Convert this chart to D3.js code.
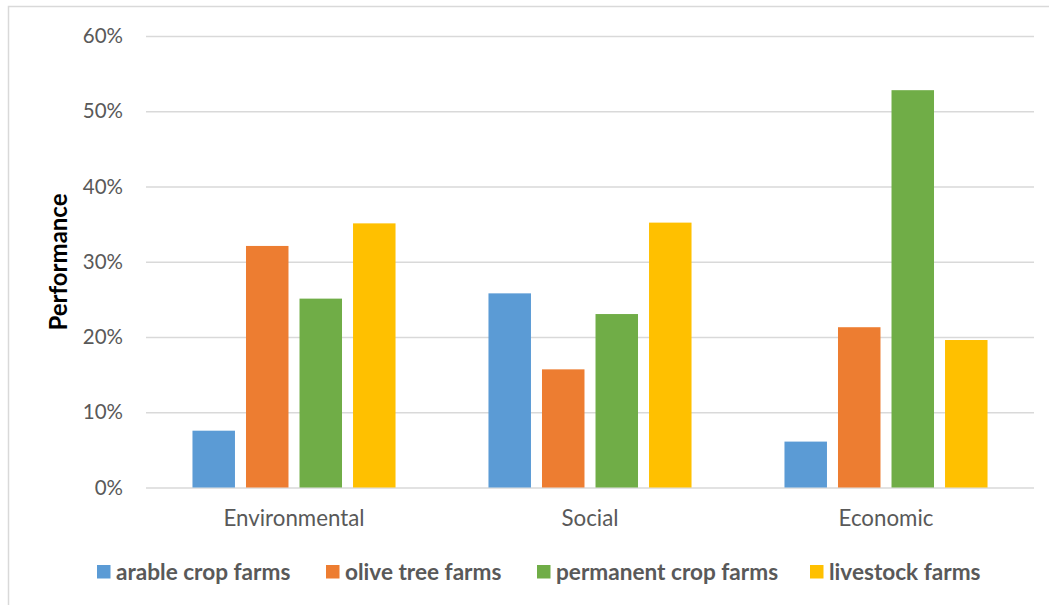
<!DOCTYPE html>
<html>
<head>
<meta charset="utf-8">
<script src="https://cdn.jsdelivr.net/npm/d3@7"></script>
<style>
  html, body { margin: 0; padding: 0; background: #fff; }
  svg { display: block; font-family: Lato, "Open Sans", sans-serif; }
</style>
</head>
<body>
<svg id="chart" width="1049" height="605"></svg>
<script>
// Performance share per dimension and farm type
const categories = ["Environmental", "Social", "Economic"];
const seriesNames = ["arable crop farms", "olive tree farms", "permanent crop farms", "livestock farms"];
const arable = [7.55, 25.8, 6.1];
const olive = [32.1, 15.7, 21.3];
const permanent = [25.1, 23.05, 52.8];
const livestock = [35.1, 35.2, 19.6];
const yTicks = [0, 10, 20, 30, 40, 50, 60];
const colors = ["#5B9BD5", "#ED7D31", "#70AD47", "#FFC000"];

const seriesValues = [arable, olive, permanent, livestock];
const rows = categories.map((c, i) => ({
  category: c,
  values: seriesNames.map((s, j) => ({ series: s, value: seriesValues[j][i] }))
}));

const svg = d3.select("#chart");
const plot = { left: 146, right: 1034, top: 36, bottom: 487.5 };

// outer frame (left and top edges visible)
svg.append("rect")
  .attr("x", 8.5).attr("y", 6.5)
  .attr("width", 1100).attr("height", 700)
  .attr("fill", "none").attr("stroke", "#d9d9d9").attr("stroke-width", 1.5);

const y = d3.scaleLinear().domain([0, 60]).range([plot.bottom, plot.top]);
const x0 = d3.scaleBand().domain(categories).range([plot.left, plot.right])
  .paddingInner(0.314).paddingOuter(0.157);
const x1 = d3.scaleBand().domain(seriesNames).range([0, x0.bandwidth()])
  .paddingInner(0.206).paddingOuter(0);
const color = d3.scaleOrdinal().domain(seriesNames).range(colors);

// gridlines + tick labels
const yAxis = d3.axisLeft(y).tickValues(yTicks)
  .tickSize(-(plot.right - plot.left)).tickPadding(23)
  .tickFormat(d => d + "%");
const gy = svg.append("g").attr("transform", `translate(${plot.left},0)`).call(yAxis);
gy.select(".domain").remove();
gy.selectAll(".tick line").attr("stroke", "#d9d9d9").attr("stroke-width", 1.5);
gy.selectAll(".tick text").attr("fill", "#595959").attr("font-size", 20.5)
  .attr("font-family", "Lato, sans-serif");

// bars
const groups = svg.append("g").selectAll("g").data(rows).join("g")
  .attr("transform", d => `translate(${x0(d.category)},0)`);
groups.selectAll("rect").data(d => d.values).join("rect")
  .attr("x", d => x1(d.series))
  .attr("y", d => y(d.value))
  .attr("width", x1.bandwidth())
  .attr("height", d => y(0) - y(d.value))
  .attr("fill", d => color(d.series));

// category axis
const xAxis = d3.axisBottom(x0).tickSize(0).tickPadding(23);
const gx = svg.append("g").attr("transform", `translate(0,${plot.bottom})`).call(xAxis);
gx.select(".domain").remove();
gx.selectAll(".tick text").attr("fill", "#595959").attr("font-size", 22.3)
  .attr("font-family", "Lato, sans-serif");

// y-axis title
svg.append("text")
  .attr("transform", `translate(67,262) rotate(-90)`)
  .attr("text-anchor", "middle")
  .attr("font-size", 24).attr("font-weight", "bold").attr("fill", "#000")
  .text("Performance");

// legend
const legendX = [97, 326, 537, 810];
const legend = svg.append("g").selectAll("g").data(seriesNames).join("g")
  .attr("transform", (d, i) => `translate(${legendX[i]},565)`);
legend.append("rect").attr("width", 13.5).attr("height", 13.5)
  .attr("fill", d => color(d));
legend.append("text").attr("x", 19).attr("y", 14.5)
  .attr("font-size", 22.6).attr("font-weight", "bold").attr("fill", "#595959")
  .text(d => d);
</script>
</body>
</html>
